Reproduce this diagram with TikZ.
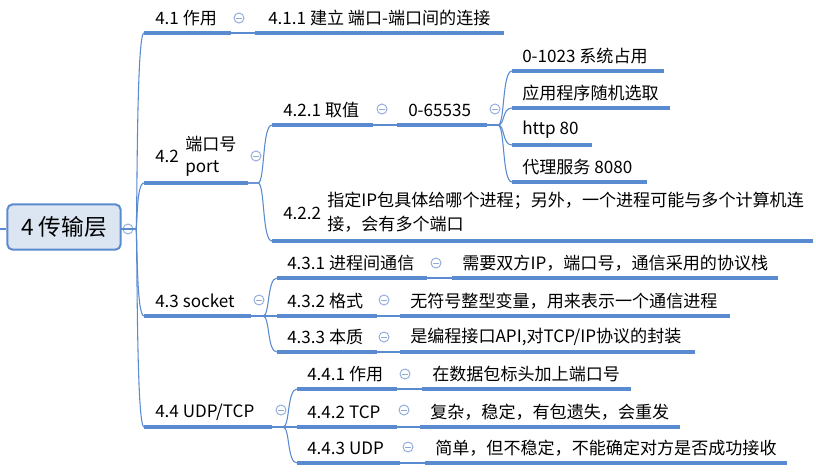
\documentclass[tikz,border=0pt]{standalone}
\usepackage{fontspec}
\setmainfont{Noto Sans CJK SC}
\begin{document}
\begin{tikzpicture}[x=0.75pt,y=-0.75pt,
  uline/.style={draw=lineblue,line width=2.3pt},
  thin/.style={draw=lineblue,line width=0.8pt},
  txt/.style={anchor=west,inner sep=0pt,font=\fontsize{12.8pt}{15pt}\selectfont,text=black},
  colbox/.style={circle,draw=circblue,line width=0.7pt,minimum size=7.5pt,inner sep=0pt}]
\definecolor{lineblue}{HTML}{5A8AD0}
\definecolor{circblue}{HTML}{8FAADC}
\definecolor{rootfill}{HTML}{DCE6F2}
\useasboundingbox (0,0) rectangle (816,471);
\fill[white] (0,0) rectangle (816,471);
\newcommand\topic[6]{%
  \coordinate (#1s) at (#2,#4); \coordinate (#1e) at (#3,#4);
  \draw[uline] (#1s) -- (#1e);
  \node[txt] (#1t) at (#5,{#4-15}) {#6};}
\newcommand\topicx[5]{%
  \coordinate (#1s) at (#2,#4); \coordinate (#1e) at (#3,#4);
  \draw[uline] (#1s) -- (#1e);}
\newcommand\colc[3]{%
  \node[colbox] (#1) at (#2,#3) {};
  \draw[circblue,line width=0.7pt] ([xshift=-2.2pt]#1.center) -- ([xshift=2.2pt]#1.center);}
% root
\node[draw=lineblue,line width=1.5pt,fill=rootfill,rounded corners=4pt,minimum width=85pt,minimum height=34pt,inner sep=0pt,font=\fontsize{17pt}{20pt}\selectfont] (root) at (64,227) {4 传输层};
\coordinate (lft) at (0,229);
\draw[thin] (lft) -- (root.west |- lft);
\colc{c0}{128}{229}
\coordinate (rootc) at (121,229);
% level 1
\topic{a}{144}{231}{33}{155}{4.1 作用}
\topicx{b}{144}{248}{183}{}
\node[txt] (bt) at (155,156) {4.2};
\node[txt,align=left,font=\fontsize{12.8pt}{16.5pt}\selectfont] (bt2) at (185,156) {端口号\\port};
\topic{c}{144}{251}{316}{155}{4.3 socket}
\topic{d}{144}{272}{427}{155}{4.4 UDP/TCP}
\foreach \k in {a,b,c,d}{
  \draw[thin] (rootc) -- (136,229) .. controls (137.5,229) and (136,0 |- \k s) .. (144,0 |- \k s);}
\colc{c1}{239}{18}\colc{c2}{256}{156}\colc{c3}{259}{300}\colc{c4}{281}{410}
% 4.1.1
\topic{aa}{255}{504}{33}{268}{4.1.1 建立 端口-端口间的连接}
\draw[thin] (ae) -- (aas);
% 4.2 children
\topic{ba}{272}{373}{125}{283}{4.2.1 取值}
\topicx{bb}{272}{813}{241}{}
\node[txt] (bbt) at (283,213) {4.2.2};
\node[txt,align=left,font=\fontsize{12.8pt}{18pt}\selectfont] (bbt2) at (327,212) {指定IP包具体给哪个进程；另外，一个进程可能与多个计算机连\\接，会有多个端口};
\foreach \k in {ba,bb}{
  \draw[thin] (be) -- (258,183) .. controls (265,183) and (262,0 |- \k s) .. (272,0 |- \k s);}
\colc{c21}{382}{109}
\topic{bc}{397}{487}{125}{408}{0-65535}
\draw[thin] (bae) -- (bcs);
\colc{c22}{495}{109}
\topic{l1}{512}{664}{71}{522}{0-1023 系统占用}
\topic{l2}{512}{670}{108}{522}{应用程序随机选取}
\topic{l3}{512}{592}{145}{522}{http 80}
\topic{l4}{512}{647}{182}{522}{代理服务 8080}
\foreach \k in {l1,l2,l3,l4}{
  \draw[thin] (bce) -- (498,125) .. controls (505,125) and (502,0 |- \k s) .. (512,0 |- \k s);}
% 4.3 children
\topic{ca}{277}{427}{278}{287}{4.3.1 进程间通信}
\topic{cb}{277}{377}{316}{287}{4.3.2 格式}
\topic{cc}{277}{377}{352}{287}{4.3.3 本质}
\foreach \k in {ca,cb,cc}{
  \draw[thin] (ce) -- (263,316) .. controls (270,316) and (267,0 |- \k s) .. (277,0 |- \k s);}
\colc{c31}{436}{263}\colc{c32}{384}{300}\colc{c33}{384}{337}
\topic{cal}{452}{778}{278}{462}{需要双方IP，端口号，通信采用的协议栈}
\topic{cbl}{400}{730}{316}{410}{无符号整型变量，用来表示一个通信进程}
\topic{ccl}{400}{695}{352}{410}{是编程接口API,对TCP/IP协议的封装}
\draw[thin] (cae) -- (cals);
\draw[thin] (cbe) -- (cbls);
\draw[thin] (cce) -- (ccls);
% 4.4 children
\topic{da}{297}{397}{389}{307}{4.4.1 作用}
\topic{db}{297}{397}{427}{307}{4.4.2 TCP}
\topic{dc}{297}{400}{463}{307}{4.4.3 UDP}
\foreach \k in {da,db,dc}{
  \draw[thin] (de) -- (283,427) .. controls (290,427) and (287,0 |- \k s) .. (297,0 |- \k s);}
\colc{c41}{405}{374}\colc{c42}{404}{410}\colc{c43}{408}{447}
\topic{dal}{422}{631}{389}{432}{在数据包标头加上端口号}
\topic{dbl}{420}{680}{427}{430}{复杂，稳定，有包遗失，会重发}
\topic{dcl}{425}{787}{463}{435}{简单，但不稳定，不能确定对方是否成功接收}
\draw[thin] (dae) -- (dals);
\draw[thin] (dbe) -- (dbls);
\draw[thin] (dce) -- (dcls);
\end{tikzpicture}
\end{document}
